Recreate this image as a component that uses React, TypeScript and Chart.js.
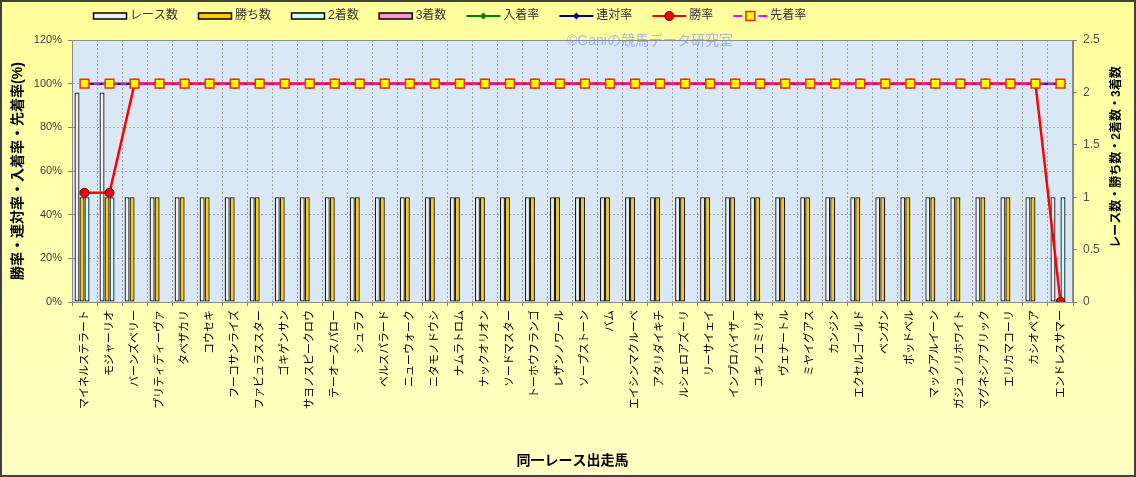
import React, { useEffect, useRef } from 'react';
import { Chart, registerables } from 'chart.js';

Chart.register(...registerables);

const FONT = "'Liberation Sans','Noto Sans CJK JP',sans-serif";

const horses = [
  'マイネルステラート', 'モジャーリオ', 'バーンズベリー', 'プリティディーヴァ', 'タベザカリ',
  'コウセキ', 'フーコサンライズ', 'ファビュラススター', 'ゴキゲンサン', 'サヨノスピークロウ',
  'テーオースパロー', 'シュラフ', 'ベルスパラード', 'ニューウォーク', 'ニタモノドウシ',
  'ナムラトロム', 'ナックオリオン', 'ソードマスター', 'トーホウフランゴ', 'レザンノワール',
  'ソープストーン', 'バム', 'エイシンマクルーベ', 'アタリダイキチ', 'ルシェロアズーリ',
  'リーサイェイ', 'インプロバイザー', 'ユキノエミリオ', 'ヴェナートル', 'ミヤイグアス',
  'カンジン', 'エクセルゴールド', 'ベンガン', 'ポッドベル', 'マックアルイーン',
  'ガジュノリホワイト', 'マグネシアブリック', 'エリカマコーリ', 'カシオペア', 'エンドレスサマー',
];

const raceCounts = [
  2, 2, 1, 1, 1, 1, 1, 1, 1, 1,
  1, 1, 1, 1, 1, 1, 1, 1, 1, 1,
  1, 1, 1, 1, 1, 1, 1, 1, 1, 1,
  1, 1, 1, 1, 1, 1, 1, 1, 1, 1,
];
const winCounts = [
  1, 1, 1, 1, 1, 1, 1, 1, 1, 1,
  1, 1, 1, 1, 1, 1, 1, 1, 1, 1,
  1, 1, 1, 1, 1, 1, 1, 1, 1, 1,
  1, 1, 1, 1, 1, 1, 1, 1, 1, 0,
];
const secondCounts = [
  1, 1, 0, 0, 0, 0, 0, 0, 0, 0,
  0, 0, 0, 0, 0, 0, 0, 0, 0, 0,
  0, 0, 0, 0, 0, 0, 0, 0, 0, 0,
  0, 0, 0, 0, 0, 0, 0, 0, 0, 1,
];
const thirdCounts = [
  0, 0, 0, 0, 0, 0, 0, 0, 0, 0,
  0, 0, 0, 0, 0, 0, 0, 0, 0, 0,
  0, 0, 0, 0, 0, 0, 0, 0, 0, 0,
  0, 0, 0, 0, 0, 0, 0, 0, 0, 0,
];
const placeRate = [
  100, 100, 100, 100, 100, 100, 100, 100, 100, 100,
  100, 100, 100, 100, 100, 100, 100, 100, 100, 100,
  100, 100, 100, 100, 100, 100, 100, 100, 100, 100,
  100, 100, 100, 100, 100, 100, 100, 100, 100, 100,
];
const quinellaRate = [
  100, 100, 100, 100, 100, 100, 100, 100, 100, 100,
  100, 100, 100, 100, 100, 100, 100, 100, 100, 100,
  100, 100, 100, 100, 100, 100, 100, 100, 100, 100,
  100, 100, 100, 100, 100, 100, 100, 100, 100, 100,
];
const winRate = [
  50, 50, 100, 100, 100, 100, 100, 100, 100, 100,
  100, 100, 100, 100, 100, 100, 100, 100, 100, 100,
  100, 100, 100, 100, 100, 100, 100, 100, 100, 100,
  100, 100, 100, 100, 100, 100, 100, 100, 100, 0,
];
const aheadRate = [
  100, 100, 100, 100, 100, 100, 100, 100, 100, 100,
  100, 100, 100, 100, 100, 100, 100, 100, 100, 100,
  100, 100, 100, 100, 100, 100, 100, 100, 100, 100,
  100, 100, 100, 100, 100, 100, 100, 100, 100, 100,
];

const leftTickLabels = ['0%', '20%', '40%', '60%', '80%', '100%', '120%'];
const rightTickLabels = ['0', '0.5', '1', '1.5', '2', '2.5'];

const leftTitle = '勝率・連対率・入着率・先着率(%)';
const rightTitle = 'レース数・勝ち数・2着数・3着数';
const bottomTitle = '同一レース出走馬';
const watermark = '©Ganiの競馬データ研究室';

function drawMarker(ctx: CanvasRenderingContext2D, style: string, x: number, y: number, r: number, fill: string, stroke: string, bw: number) {
  ctx.save();
  ctx.fillStyle = fill;
  ctx.strokeStyle = stroke;
  ctx.lineWidth = bw;
  ctx.setLineDash([]);
  ctx.beginPath();
  if (style === 'circle') {
    ctx.arc(x, y, r, 0, Math.PI * 2);
  } else if (style === 'rect') {
    const s = r * Math.SQRT1_2;
    ctx.rect(x - s, y - s, 2 * s, 2 * s);
  } else if (style === 'rectRot') {
    ctx.moveTo(x, y - r);
    ctx.lineTo(x + r, y);
    ctx.lineTo(x, y + r);
    ctx.lineTo(x - r, y);
    ctx.closePath();
  }
  ctx.fill();
  if (bw > 0) ctx.stroke();
  ctx.restore();
}

const decor = {
  id: 'decor',
  beforeDraw(chart: any) {
    const { ctx, width, height, chartArea: a } = chart;
    ctx.save();
    const g = ctx.createLinearGradient(0, 0, 0, height);
    g.addColorStop(0, '#FFFF9C');
    g.addColorStop(1, '#FFFFC4');
    ctx.fillStyle = g;
    ctx.fillRect(0, 0, width, height);
    ctx.fillStyle = '#DAE8F6';
    ctx.fillRect(a.left, a.top, a.right - a.left, a.bottom - a.top);
    ctx.restore();
  },
  afterDraw(chart: any) {
    const { ctx, width, height, chartArea: a } = chart;
    ctx.save();
    // plot border
    ctx.strokeStyle = '#8C8C8C';
    ctx.lineWidth = 1;
    ctx.strokeRect(a.left + 0.5, a.top + 0.5, a.right - a.left - 1, a.bottom - a.top);

    // watermark
    ctx.font = `14px ${FONT}`;
    ctx.fillStyle = 'rgba(120,140,235,0.6)';
    ctx.textAlign = 'left';
    ctx.textBaseline = 'middle';
    ctx.fillText(watermark, 567, 41);

    // right title (reads bottom to top)
    ctx.save();
    ctx.translate(1117, 157);
    ctx.rotate(-Math.PI / 2);
    ctx.font = `bold 12px ${FONT}`;
    ctx.fillStyle = '#000';
    ctx.textAlign = 'center';
    ctx.textBaseline = 'middle';
    ctx.fillText(rightTitle, 0, 0);
    ctx.restore();

    // legend
    let x = 93;
    const cy = 16;
    ctx.font = `12px ${FONT}`;
    ctx.textBaseline = 'middle';
    ctx.textAlign = 'left';
    chart.data.datasets.forEach((ds: any) => {
      const w = 34;
      if (ds.type === 'line') {
        ctx.save();
        ctx.strokeStyle = ds.borderColor;
        ctx.lineWidth = 2;
        ctx.beginPath();
        if (ds.borderDash && ds.borderDash.length) {
          ctx.moveTo(x, cy); ctx.lineTo(x + 9, cy);
          ctx.moveTo(x + 25, cy); ctx.lineTo(x + w, cy);
        } else {
          ctx.moveTo(x, cy); ctx.lineTo(x + w, cy);
        }
        ctx.stroke();
        ctx.restore();
        drawMarker(ctx, ds.pointStyle, x + w / 2, cy, ds.pointRadius, ds.pointBackgroundColor, ds.pointBorderColor, ds.pointBorderWidth);
      } else {
        ctx.save();
        ctx.fillStyle = ds.backgroundColor;
        ctx.fillRect(x, cy - 3, w, 6);
        ctx.strokeStyle = '#000';
        ctx.lineWidth = 1.5;
        ctx.strokeRect(x + 0.5, cy - 3, w - 1, 6);
        ctx.restore();
      }
      ctx.fillStyle = '#333';
      ctx.fillText(ds.label, x + w + 3, cy);
      x += w + 3 + ctx.measureText(ds.label).width + 20;
    });

    // outer border
    ctx.strokeStyle = '#404040';
    ctx.lineWidth = 2;
    ctx.strokeRect(1, 1, width - 2, height - 2);
    ctx.restore();
  },
};

export default function App() {
  const ref = useRef<HTMLCanvasElement | null>(null);

  useEffect(() => {
    if (!ref.current) return;
    const barCommon = {
      type: 'bar' as const,
      yAxisID: 'y2',
      borderColor: '#1A1A1A',
      borderWidth: 1.3,
      borderSkipped: false,
      categoryPercentage: 0.8,
      barPercentage: 1,
      order: 10,
    };
    const chart = new Chart(ref.current, {
      type: 'bar',
      data: {
        labels: horses,
        datasets: [
          { ...barCommon, label: 'レース数', data: raceCounts, backgroundColor: '#F0F0F0' },
          { ...barCommon, label: '勝ち数', data: winCounts, backgroundColor: '#FFCC00' },
          { ...barCommon, label: '2着数', data: secondCounts, backgroundColor: '#CCFFFF' },
          { ...barCommon, label: '3着数', data: thirdCounts, backgroundColor: '#FF99CC' },
          {
            type: 'line', label: '入着率', data: placeRate, yAxisID: 'y',
            borderColor: '#008000', borderWidth: 2, tension: 0,
            pointStyle: 'rectRot', pointRadius: 3.5, pointBackgroundColor: '#008000',
            pointBorderColor: '#008000', pointBorderWidth: 0, order: 4,
          },
          {
            type: 'line', label: '連対率', data: quinellaRate, yAxisID: 'y',
            borderColor: '#000080', borderWidth: 2, tension: 0,
            pointStyle: 'rectRot', pointRadius: 3.5, pointBackgroundColor: '#000080',
            pointBorderColor: '#000080', pointBorderWidth: 0, order: 3,
          },
          {
            type: 'line', label: '勝率', data: winRate, yAxisID: 'y',
            borderColor: '#FF0000', borderWidth: 2.5, tension: 0,
            pointStyle: 'circle', pointRadius: 4.5, pointBackgroundColor: '#FF0000',
            pointBorderColor: '#500000', pointBorderWidth: 1, order: 2,
          },
          {
            type: 'line', label: '先着率', data: aheadRate, yAxisID: 'y',
            borderColor: '#FF00FF', borderWidth: 2, borderDash: [6, 3], tension: 0,
            pointStyle: 'rect', pointRadius: 6.2, pointBackgroundColor: '#FFFF00',
            pointBorderColor: '#FF2A00', pointBorderWidth: 1.5, order: 1,
          },
        ] as any,
      },
      options: {
        animation: false,
        responsive: true,
        maintainAspectRatio: false,
        layout: { padding: { left: 8, top: 40, right: 0, bottom: 2 } },
        plugins: { legend: { display: false }, tooltip: { enabled: false } },
        scales: {
          x: {
            offset: true,
            grid: { color: '#A6A6A6', lineWidth: 1, tickLength: 4, offset: true, tickBorderDash: [] as any, tickColor: '#808080' },
            border: { display: true, color: '#808080', dash: [2, 2] },
            ticks: {
              autoSkip: false, minRotation: 90, maxRotation: 90, padding: 4,
              color: '#000', font: { family: FONT, size: 11 },
            },
            title: {
              display: true, text: bottomTitle, color: '#000',
              font: { family: FONT, size: 14, weight: 'bold' }, padding: { top: 0, bottom: 5 },
            },
            afterFit: (s: any) => { s.height = 173; },
          },
          y: {
            position: 'left', min: 0, max: 120,
            grid: { color: '#A6A6A6', lineWidth: 1, tickLength: 4, tickColor: '#808080' },
            border: { display: true, color: '#808080', dash: [2, 2] },
            ticks: {
              stepSize: 20, padding: 6, color: '#404040', font: { family: FONT, size: 11 },
              callback: (_v: any, i: number) => leftTickLabels[i],
            },
            title: {
              display: true, text: leftTitle, color: '#000',
              font: { family: FONT, size: 14, weight: 'bold' }, padding: { top: 2, bottom: 0 },
            },
            afterFit: (s: any) => { s.width = 64; },
          },
          y2: {
            position: 'right', min: 0, max: 2.5,
            grid: { drawOnChartArea: false, tickLength: 4, tickColor: '#808080' },
            border: { display: true, color: '#808080' },
            ticks: {
              stepSize: 0.5, padding: 6, color: '#505050', font: { family: FONT, size: 12 },
              callback: (_v: any, i: number) => rightTickLabels[i],
            },
            afterFit: (s: any) => { s.width = 63; },
          },
        },
      } as any,
      plugins: [decor],
    });
    return () => chart.destroy();
  }, []);

  return (
    <div style={{ position: 'absolute', left: 0, top: 0, width: 1136, height: 477 }}>
      <canvas ref={ref} />
    </div>
  );
}
